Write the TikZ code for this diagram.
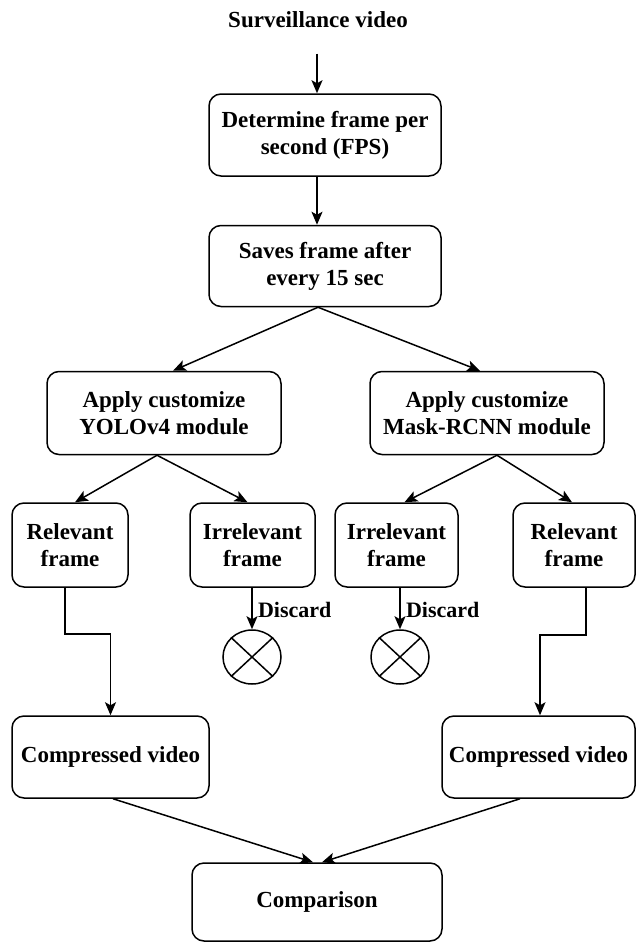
\documentclass[tikz,border=0pt]{standalone}
\usepackage{fontspec}
\setmainfont{Liberation Serif}
\usetikzlibrary{arrows.meta,shapes.geometric,calc}
\begin{document}
\begin{tikzpicture}[x=1pt,y=-1pt,
  every node/.style={font=\fontsize{23}{27}\selectfont\bfseries},
  box/.style={draw, line width=1.5pt, rounded corners=12pt, align=center, inner sep=0pt},
  arr/.style={line width=1.5pt, -{Stealth[length=13pt,width=11pt,inset=3pt]}},
  ln/.style={line width=1.5pt},
  xmark/.style={draw, ellipse, line width=1.5pt, minimum width=58pt, minimum height=54pt, inner sep=0pt}
]
\useasboundingbox (0,0) rectangle (636,942);
\node (title) at (318,20) {Surveillance video};
\node[box, minimum width=232pt, minimum height=82pt] (b1) at (325,135) {Determine frame per\\second (FPS)};
\node[box, minimum width=232pt, minimum height=81pt] (b2) at (325,266) {Saves frame after\\every 15 sec};
\node[box, minimum width=234pt, minimum height=83pt] (yolo) at (164,413) {Apply customize\\YOLOv4 module};
\node[box, minimum width=234pt, minimum height=83pt] (mask) at (487,413) {Apply customize\\Mask-RCNN module};
\node[box, minimum width=116pt, minimum height=84pt] (relL) at (70,545) {Relevant\\frame};
\node[box, minimum width=125pt, minimum height=84pt] (irrL) at (252.5,545) {Irrelevant\\frame};
\node[box, minimum width=123pt, minimum height=84pt] (irrR) at (396.5,545) {Irrelevant\\frame};
\node[box, minimum width=122pt, minimum height=84pt] (relR) at (574,545) {Relevant\\frame};
\node[xmark] (xL) at (252,657) {};
\node[xmark] (xR) at (400,657) {};
\draw[ln] (xL.north west) -- (xL.south east) (xL.north east) -- (xL.south west);
\draw[ln] (xR.north west) -- (xR.south east) (xR.north east) -- (xR.south west);
\node[box, minimum width=197pt, minimum height=82pt] (compL) at (110.5,757) {Compressed video};
\node[box, minimum width=193pt, minimum height=82pt] (compR) at (538.5,757) {Compressed video};
\node[box, minimum width=250pt, minimum height=78pt] (cmp) at (317,902) {Comparison};
% arrows
\draw[arr] ($(title.south)+(-1,22)$) coordinate (t0) -- (t0 |- b1.north);
\draw[arr] (b1.south -| t0) -- (t0 |- b2.north);
\coordinate (b2o) at ($(b2.south)+(-7,0)$);
\draw[arr] (b2o) -- ($(yolo.north)+(9,0)$);
\draw[arr] (b2o) -- ($(mask.north)+(-7,0)$);
\coordinate (yo) at ($(yolo.south)+(-7,0)$);
\draw[arr] (yo) -- ($(relL.north)+(5,0)$);
\draw[arr] (yo) -- ($(irrL.north)+(-5,0)$);
\coordinate (mo) at ($(mask.south)+(10,0)$);
\draw[arr] (mo) -- ($(irrR.north)+(8,0)$);
\draw[arr] (mo) -- ($(relR.north)+(-2,0)$);
\draw[arr] (irrL.south -| xL.north) -- node[right, xshift=2pt, yshift=-1pt] {\fontsize{22}{26}\selectfont Discard} (xL.north);
\draw[arr] (irrR.south -| xR.north) -- node[right, xshift=2pt, yshift=-1pt] {\fontsize{22}{26}\selectfont Discard} (xR.north);
\draw[arr] ($(relL.south)+(-5,0)$) -- ++(0,46) -| (compL.north);
\draw[arr] ($(relR.south)+(12,0)$) -- ++(0,47) -| ($(compR.north)+(1.5,0)$);
\draw[arr] ($(compL.south)+(2.5,0)$) -- ($(cmp.north)+(-4,0)$);
\draw[arr] ($(compR.south)+(-18.5,0)$) -- ($(cmp.north)+(5,0)$);
\end{tikzpicture}
\end{document}
